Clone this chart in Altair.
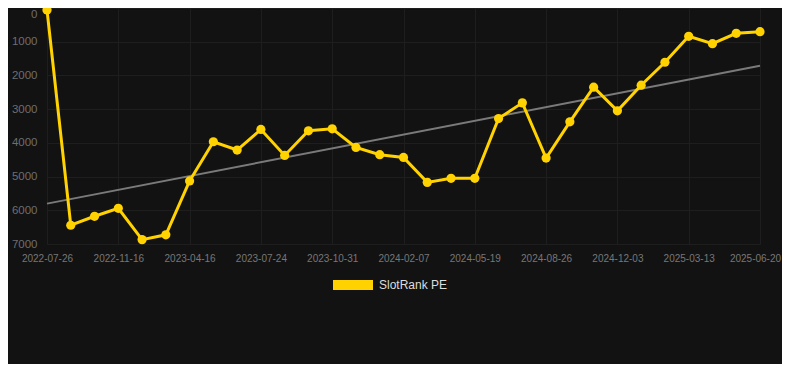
import altair as alt
import pandas as pd

# --- data ---
idx = list(range(31))
pe_rank = [60, 6444, 6178, 5941, 6870, 6728, 5130, 3967, 4213, 3603, 4373, 3642, 3583,
           4136, 4352, 4432, 5172, 5053, 5053, 3278, 2814, 4450, 3376, 2349, 3050,
           2290, 1609, 840, 1059, 752, 704]
tick_labels = ["2022-07-26", "2022-11-16", "2023-04-16", "2023-07-24", "2023-10-31",
               "2024-02-07", "2024-05-19", "2024-08-26", "2024-12-03", "2025-03-13",
               "2025-06-20"]
trend_idx = [0, 30]
trend_vals = [5802, 1710]
series_name = "SlotRank PE"

df = pd.DataFrame({"i": idx, "rank": pe_rank, "series": [series_name] * len(idx)})
trend = pd.DataFrame({"i": trend_idx, "rank": trend_vals})

label_arr = "[" + ",".join("'%s'" % t for t in tick_labels) + "]"

x_enc = alt.X("i:Q", scale=alt.Scale(domain=[0, 30], nice=False, zero=False),
              axis=alt.Axis(values=list(range(0, 31, 3)),
                            labelExpr=label_arr + "[round(datum.value/3)]",
                            title=None, domain=False, ticks=False, labelOverlap=False,
                            labelFlush=False, labelBound=False,
                            labelOffset={"condition": {"test": "datum.value >= 30",
                                                       "value": -5}, "value": 0},
                            labelColor="#777777", labelFontSize=10, labelPadding=9,
                            gridColor="#1e1e1e", labelFont="Liberation Sans"))
y_enc = alt.Y("rank:Q", scale=alt.Scale(domain=[0, 7000], reverse=True, nice=False),
              axis=alt.Axis(values=list(range(0, 7001, 1000)), title=None, format="d",
                            domain=False, ticks=False, labelColor="#6e6e6e",
                            labelFontSize=11.5, labelPadding=10, gridColor="#1e1e1e",
                            labelOffset={"condition": {"test": "datum.value <= 0",
                                                       "value": 6}, "value": 0},
                            labelFont="Liberation Sans"))

color = alt.Color("series:N", scale=alt.Scale(domain=[series_name], range=["#FFD200"]),
                  legend=alt.Legend(title=None, orient="none", legendX=286, legendY=257,
                                    symbolType="M-1,-0.25H1V0.25H-1Z", symbolSize=1600,
                                    symbolStrokeWidth=0, symbolFillColor="#FFD200",
                                    symbolOpacity=1, labelColor="#dddddd",
                                    labelFontSize=12, labelOffset=6,
                                    labelFont="Liberation Sans"))

trend_line = alt.Chart(trend).mark_line(color="#7a7a7a", strokeWidth=2).encode(
    x=x_enc, y=y_enc)
line = alt.Chart(df).mark_line(strokeWidth=3).encode(x=x_enc, y=y_enc, color=color)
pts = alt.Chart(df).mark_point(filled=True, size=85, opacity=1).encode(
    x=x_enc, y=y_enc, color=color)

chart = alt.layer(trend_line, line, pts).properties(
    width=713, height=236,
    autosize=alt.AutoSizeParams(type="none"),
    padding={"left": 39, "top": 0, "right": 22, "bottom": 120},
    background="#121212",
).configure_view(stroke=None).configure_axis(gridWidth=1)

chart.save("out.html", embed_options={"renderer": "svg", "actions": False})
